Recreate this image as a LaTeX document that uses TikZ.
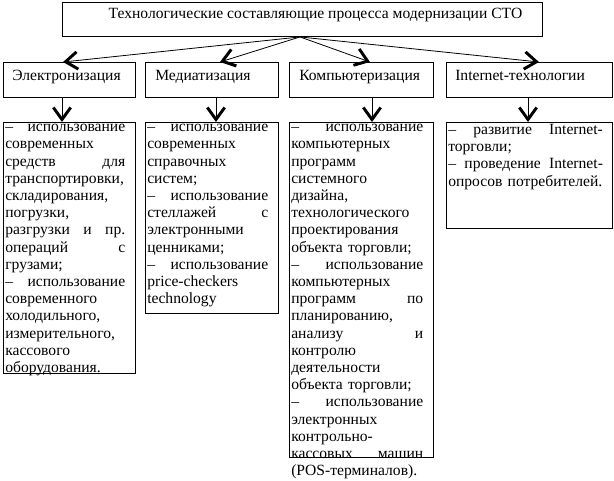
\documentclass[tikz,border=0pt]{standalone}
\usepackage{fontspec}
\setmainfont{Liberation Serif}
\usetikzlibrary{arrows.meta,calc,positioning}

\begin{document}
\begin{tikzpicture}[x=0.75pt,y=-0.75pt,
  font=\fontsize{11.7pt}{12.9pt}\selectfont,
  box/.style={draw,line width=0.7pt,inner sep=0pt,anchor=north west},
  lst/.style={inner sep=0pt,anchor=north west,align=left},
  arr/.style={line width=0.6pt,-{Straight Barb[length=9pt,width=13pt,line width=2.2pt,sharp]}}]
  \useasboundingbox (0,0) rectangle (614,480);
  % top
  \node[box,minimum width=360pt,minimum height=25.5pt] (top) at (62,2) {};
  \node[inner sep=0pt] (ttl) at ($(top.center)+(13,-4)$) {Технологические составляющие процесса модернизации СТО};
  % second row
  \node[box,minimum width=99pt,minimum height=26.25pt] (e1) at (3,62) {};
  \node[box,minimum width=99.75pt,minimum height=26.25pt] (e2) at (145,62) {};
  \node[box,minimum width=108pt,minimum height=26.25pt] (e3) at (289,62) {};
  \node[box,minimum width=124.5pt,minimum height=26.25pt] (e4) at (446,62) {};
  \node[inner sep=0pt,anchor=mid west] (t1) at ($(e1.west)+(9,-3)$) {Электронизация};
  \node[inner sep=0pt,anchor=mid west] (t2) at ($(e2.west)+(10,-3)$) {Медиатизация};
  \node[inner sep=0pt,anchor=mid west] (t3) at ($(e3.west)+(10,-3)$) {Компьютеризация};
  \node[inner sep=0pt,anchor=mid west] (t4) at ($(e4.west)+(9,-3)$) {Internet-технологии};
  % lists
  \node[box,minimum width=99pt,minimum height=188.25pt] (d1) at (3,122) {};
  \node[box,minimum width=99.75pt,minimum height=143.25pt] (d2) at (145,122) {};
  \node[box,minimum width=108pt,minimum height=251.25pt] (d3) at (289,122) {};
  \node[box,minimum width=124.5pt,minimum height=79.5pt] (d4) at (446,122) {};
  \node[lst,text width=90pt] (l1) at ($(d1.north west)+(2,2)$) {–\hfill использование\\ современных\\ средств\hfill для\\ транспортировки,\\ складирования,\\ погрузки,\\ разгрузки\hfill и\hfill пр.\\ операций\hfill с\\ грузами;\\ –\hfill использование\\ современного\\ холодильного,\\ измерительного,\\ кассового\\ оборудования.};
  \node[lst,text width=90.75pt] (l2) at ($(d2.north west)+(2,2)$) {–\hfill использование\\ современных\\ справочных\\ систем;\\ –\hfill использование\\ стеллажей\hfill с\\ электронными\\ ценниками;\\ –\hfill использование\\ price-checkers\\ technology};
  \node[lst,text width=99pt] (l3) at ($(d3.north west)+(2,2)$) {–\hfill использование\\ компьютерных\\ программ\\ системного\\ дизайна,\\ технологического\\ проектирования\\ \mbox{объекта торговли;}\\ –\hfill использование\\ компьютерных\\ программ\hfill по\\ планированию,\\ анализу\hfill и\\ контролю\\ деятельности\\ \mbox{объекта торговли;}\\ –\hfill использование\\ электронных\\ контрольно-\\ кассовых\hfill машин\\ (POS-терминалов).};
  \node[lst,text width=116pt] (l4) at ($(d4.north west)+(2,2)$) {–\hfill развитие\hfill Internet-\\ торговли;\\ –\hfill проведение\hfill Internet-\\ \mbox{опросов потребителей.}};
  % arrows
  \coordinate (src) at ($(top.south west)+(238,0)$);
  \foreach \n/\a/\b in {1/60/59,2/75/71,3/81/83,4/93/82} {
    \draw[arr] (src) -- ($(e\n.north west)+(\a,0)$);
    \draw[arr] ($(e\n.south west)+(\b,0)$) -- ($(d\n.north west)+(\b,0)$);
  }
\end{tikzpicture}
\end{document}
